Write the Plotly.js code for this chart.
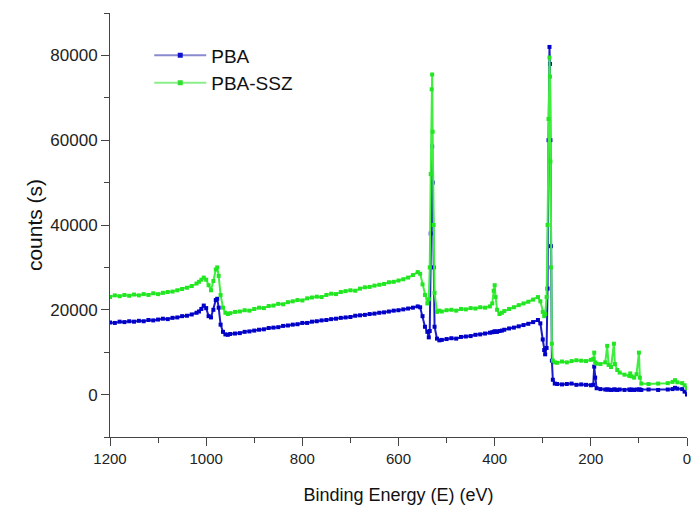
<!DOCTYPE html>
<html>
<head>
<meta charset="utf-8">
<script src="https://cdn.plot.ly/plotly-3.0.1.min.js"></script>
<style>html,body{margin:0;padding:0;background:#fff;}#chart{width:695px;height:511px;}</style>
</head>
<body>
<div id="chart"></div>
<script>
// Binding energy (eV)
const energy = [
 1200,1190,1180,1170,1160,1150,1140,1130,1120,1110,1100,1090,1080,
 1070,1060,1050,1040,1030,1020,1015,1010,1005,1000,995,990,985,980,977,974,970,965,960,955,950,
 940,930,920,910,900,890,880,870,860,850,840,830,820,810,800,790,780,770,760,750,
 740,730,720,710,700,690,680,670,660,650,640,630,620,610,600,590,580,570,560,
 555,550,545,540,537,535,533,531,530,529,527,525,520,515,510,
 500,490,480,470,460,450,440,430,420,410,405,402,400,398,395,390,385,380,
 370,360,350,340,330,320,310,305,300,297,295,292,290,288,286,285,284,283,281,279,275,
 270,260,250,240,230,220,210,200,195,193,191,188,180,170,166,163,158,152,150,145,140,
 130,120,118,115,110,105,100,98,95,80,60,40,30,25,20,10,5,0
];
// PBA counts
const pba = [
 17000,16900,17200,17100,17300,17200,17400,17300,17600,17500,17700,17900,17800,
 18100,18200,18500,18600,18900,19300,19600,20200,21000,20400,18500,18200,20000,22300,22600,20500,16500,14800,14200,14100,14300,
 14400,14500,14800,14900,15100,15300,15400,15700,15800,15900,16200,16300,16500,16600,16900,16900,17200,17300,17500,17600,
 17800,17900,18100,18200,18300,18600,18700,18800,19000,19100,19300,19400,19600,19800,19900,20100,20300,20500,20800,
 20600,18500,16000,14800,13500,15000,38000,52000,58500,50000,30000,16000,13200,12800,12900,
 13100,13300,13200,13600,13700,13800,14100,14200,14400,14600,14700,14800,14900,14900,14800,15000,15100,15300,
 15600,15800,16100,16400,16700,17100,17600,16800,13000,10500,9500,11000,25000,60000,82000,78000,60000,35000,8000,3500,2600,
 2500,2400,2500,2600,2300,2400,2300,2200,2300,6600,4000,1500,1300,1200,1200,1200,1100,1200,1200,1100,1200,
 1100,1200,1100,1200,1100,1200,1200,1200,1100,1200,1100,1200,1300,1600,1400,1300,700,0
];
// PBA-SSZ counts
const pbaSsz = [
 23000,23400,23200,23500,23300,23600,23400,23700,23500,23900,23700,24000,24200,
 24300,24600,24900,25200,25600,26200,26600,27100,27600,27100,25800,24600,26800,29500,30000,28000,23500,20500,19300,19000,19200,
 19500,19600,19900,19800,20200,20500,20400,20900,21000,21400,21300,21800,22000,22300,22200,22700,22900,23100,23000,23500,
 23800,23700,24200,24400,24600,24500,25000,25300,25400,25700,25900,26100,26500,26600,26900,27200,27600,28200,28900,
 28500,26000,23500,21500,22500,30000,52000,72000,75500,62000,40000,24000,19500,19800,19600,
 19900,20000,19800,20200,20100,20400,20300,20600,20500,20800,21500,24500,25800,23000,20000,19000,19300,19700,
 20200,20600,21100,21500,21900,22400,23000,22000,19500,18500,19000,23000,40000,65000,79500,75000,55000,30000,12000,8000,7600,
 7500,7800,7600,7900,8100,8000,7900,8200,8400,9900,7600,7300,7200,7600,11500,7000,6500,12000,7200,5800,5200,
 4700,4400,5000,4300,4000,4800,9900,4000,2600,2500,2600,2700,3000,3400,2900,2700,2200,1500
];
const seriesNames = ['PBA', 'PBA-SSZ'];
const xTickVals = [1200,1000,800,600,400,200,0];
const yTickVals = [0,20000,40000,60000,80000];

const fam = 'Liberation Sans, Arial, sans-serif';
const traces = [
 {x: energy, y: pba, name: seriesNames[0], type: 'scatter', mode: 'lines+markers', showlegend: false,
  line: {color: '#1c1cc8', width: 2}, marker: {color: '#0000c8', symbol: 'square', size: 4}},
 {x: energy, y: pbaSsz, name: seriesNames[1], type: 'scatter', mode: 'lines+markers', showlegend: false,
  line: {color: '#40ee40', width: 2}, marker: {color: '#22e622', symbol: 'square', size: 4}},
 // legend entries
 {x: [null], y: [null], name: seriesNames[0], type: 'scatter', mode: 'lines+markers', legendgroup: 'a',
  line: {color: '#8a8ad0', width: 2}, marker: {color: '#1010d0', symbol: 'square', size: 5}},
 {x: [null], y: [null], name: seriesNames[1], type: 'scatter', mode: 'lines+markers', legendgroup: 'b',
  line: {color: '#8aee8a', width: 2}, marker: {color: '#30e030', symbol: 'square', size: 5}}
];

const layout = {
 width: 695, height: 511,
 margin: {l: 110, r: 8, t: 13, b: 74},
 paper_bgcolor: '#fff', plot_bgcolor: '#fff',
 showlegend: true,
 legend: {x: 0.068, y: 0.945, xanchor: 'left', yanchor: 'top', bgcolor: 'rgba(0,0,0,0)',
  font: {family: fam, size: 19, color: '#111'}, traceorder: 'grouped', tracegroupgap: 0, itemwidth: 52},
 xaxis: {
  range: [1200, 0], autorange: false,
  tickvals: xTickVals, ticks: 'outside', ticklen: 8, tickcolor: '#444', tickwidth: 1,
  showline: true, linecolor: '#444', linewidth: 1, showgrid: false, zeroline: false,
  tickfont: {family: fam, size: 15, color: '#222'},
  minor: {dtick: 100, tick0: 0, ticks: 'outside', ticklen: 5, tickcolor: '#444', showgrid: false},
  title: {text: 'Binding Energy (E) (eV)', font: {family: fam, size: 18, color: '#111'}, standoff: 22}
 },
 yaxis: {
  range: [-10000, 90000], autorange: false,
  tickvals: yTickVals, ticks: 'outside', ticklen: 8, tickcolor: '#444', tickwidth: 1,
  showline: true, linecolor: '#444', linewidth: 1, showgrid: false, zeroline: false,
  tickfont: {family: fam, size: 17, color: '#222'}, tickformat: 'd',
  minor: {dtick: 10000, tick0: 0, ticks: 'outside', ticklen: 5, tickcolor: '#444', showgrid: false},
  title: {text: 'counts (s)', font: {family: fam, size: 21, color: '#111'}, standoff: 1}
 }
};
Plotly.newPlot('chart', traces, layout, {displayModeBar: false, staticPlot: true});
</script>
</body>
</html>
